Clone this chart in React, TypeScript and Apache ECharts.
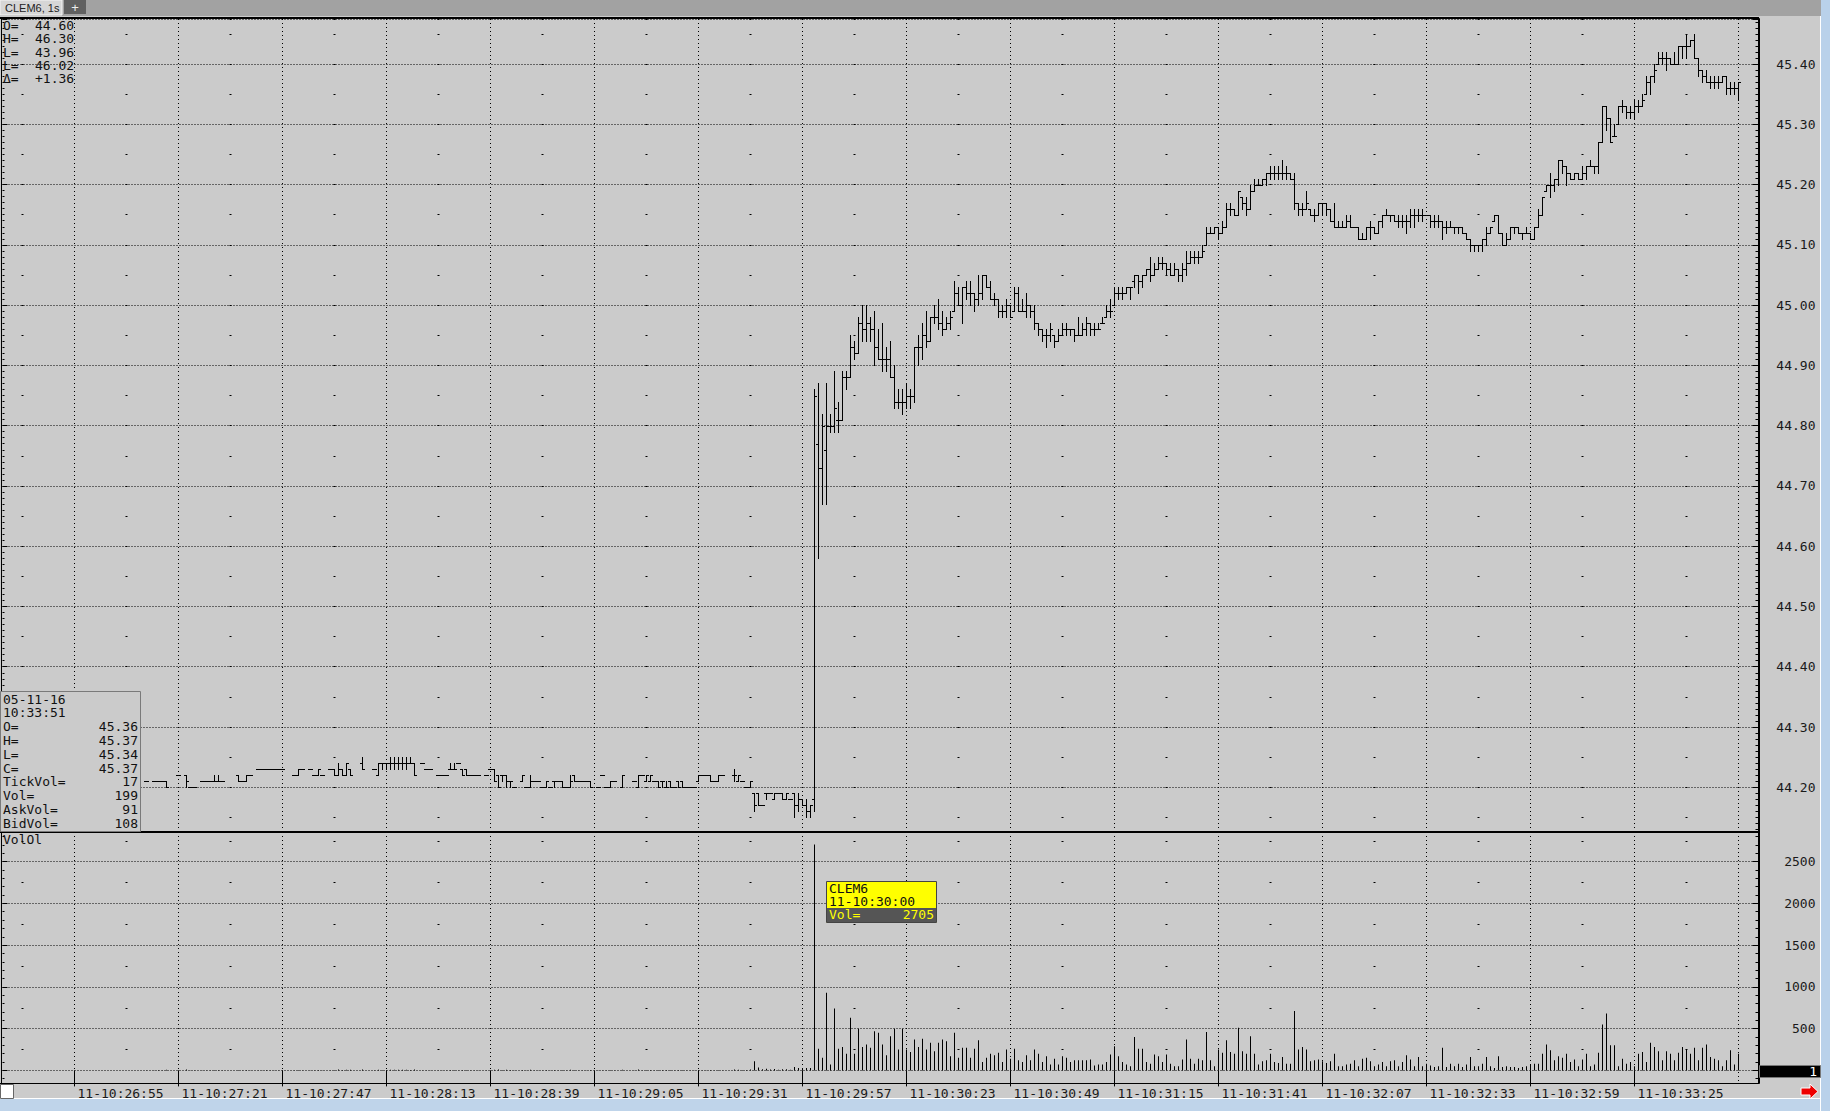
import React, { useEffect, useRef } from "react";
import * as echarts from "echarts";

// ---------- axis / time data ----------
const firstCategory = "10:26:37";
const categoryCount = 440;
const firstLabel = "10:26:55";
const lastLabel = "10:33:25";
const labelEvery = 26;
const dayPrefix = "11-";

// ---------- price / volume data ----------
// [time, open, high, low, close, volume]
const earlyBars: [string, number, number, number, number, number][] = [
  ["10:27:13", 44.21, 44.21, 44.21, 44.21, 3],
  ["10:27:15", 44.21, 44.21, 44.21, 44.21, 2],
  ["10:27:16", 44.21, 44.21, 44.21, 44.21, 4],
  ["10:27:17", 44.21, 44.21, 44.21, 44.21, 2],
  ["10:27:18", 44.21, 44.21, 44.2, 44.2, 8],
  ["10:27:21", 44.22, 44.22, 44.22, 44.22, 3],
  ["10:27:23", 44.22, 44.22, 44.2, 44.21, 12],
  ["10:27:24", 44.2, 44.2, 44.2, 44.2, 2],
  ["10:27:25", 44.2, 44.2, 44.2, 44.2, 3],
  ["10:27:27", 44.21, 44.21, 44.21, 44.21, 2],
  ["10:27:28", 44.21, 44.21, 44.21, 44.21, 3],
  ["10:27:29", 44.21, 44.21, 44.21, 44.21, 2],
  ["10:27:30", 44.21, 44.22, 44.21, 44.21, 6],
  ["10:27:31", 44.21, 44.22, 44.21, 44.21, 5],
  ["10:27:32", 44.21, 44.21, 44.21, 44.21, 2],
  ["10:27:36", 44.22, 44.22, 44.21, 44.21, 6],
  ["10:27:37", 44.21, 44.21, 44.21, 44.21, 2],
  ["10:27:38", 44.21, 44.22, 44.21, 44.22, 5],
  ["10:27:39", 44.22, 44.22, 44.22, 44.22, 2],
  ["10:27:41", 44.23, 44.23, 44.23, 44.23, 3],
  ["10:27:42", 44.23, 44.23, 44.23, 44.23, 2],
  ["10:27:43", 44.23, 44.23, 44.23, 44.23, 4],
  ["10:27:44", 44.23, 44.23, 44.23, 44.23, 2],
  ["10:27:45", 44.23, 44.23, 44.23, 44.23, 3],
  ["10:27:46", 44.23, 44.23, 44.23, 44.23, 2],
  ["10:27:47", 44.23, 44.23, 44.23, 44.23, 3],
  ["10:27:50", 44.22, 44.22, 44.22, 44.22, 2],
  ["10:27:51", 44.22, 44.23, 44.22, 44.23, 6],
  ["10:27:52", 44.23, 44.23, 44.23, 44.23, 2],
  ["10:27:54", 44.23, 44.23, 44.23, 44.23, 3],
  ["10:27:55", 44.22, 44.22, 44.22, 44.22, 2],
  ["10:27:56", 44.22, 44.23, 44.22, 44.23, 5],
  ["10:27:57", 44.22, 44.22, 44.22, 44.22, 2],
  ["10:27:59", 44.23, 44.23, 44.23, 44.23, 3],
  ["10:28:00", 44.23, 44.23, 44.22, 44.22, 6],
  ["10:28:01", 44.22, 44.24, 44.22, 44.23, 10],
  ["10:28:02", 44.23, 44.23, 44.22, 44.22, 6],
  ["10:28:03", 44.22, 44.24, 44.22, 44.24, 9],
  ["10:28:04", 44.23, 44.23, 44.22, 44.22, 7],
  ["10:28:07", 44.24, 44.25, 44.23, 44.23, 12],
  ["10:28:10", 44.23, 44.23, 44.23, 44.23, 3],
  ["10:28:11", 44.22, 44.24, 44.22, 44.24, 9],
  ["10:28:12", 44.24, 44.24, 44.23, 44.24, 5],
  ["10:28:13", 44.24, 44.24, 44.23, 44.24, 5],
  ["10:28:14", 44.24, 44.25, 44.23, 44.24, 9],
  ["10:28:15", 44.24, 44.25, 44.23, 44.24, 8],
  ["10:28:16", 44.24, 44.25, 44.23, 44.24, 9],
  ["10:28:17", 44.24, 44.25, 44.23, 44.24, 7],
  ["10:28:18", 44.24, 44.25, 44.23, 44.24, 8],
  ["10:28:19", 44.24, 44.25, 44.24, 44.24, 5],
  ["10:28:20", 44.24, 44.24, 44.22, 44.22, 10],
  ["10:28:22", 44.24, 44.24, 44.24, 44.24, 2],
  ["10:28:23", 44.23, 44.23, 44.23, 44.23, 3],
  ["10:28:24", 44.23, 44.23, 44.23, 44.23, 2],
  ["10:28:26", 44.22, 44.22, 44.22, 44.22, 3],
  ["10:28:27", 44.22, 44.22, 44.22, 44.22, 2],
  ["10:28:28", 44.22, 44.22, 44.22, 44.22, 3],
  ["10:28:29", 44.23, 44.24, 44.23, 44.23, 6],
  ["10:28:30", 44.23, 44.24, 44.23, 44.23, 5],
  ["10:28:31", 44.24, 44.24, 44.24, 44.24, 2],
  ["10:28:32", 44.23, 44.23, 44.22, 44.22, 6],
  ["10:28:33", 44.23, 44.23, 44.22, 44.22, 5],
  ["10:28:34", 44.22, 44.22, 44.22, 44.22, 2],
  ["10:28:35", 44.22, 44.22, 44.22, 44.22, 3],
  ["10:28:36", 44.22, 44.22, 44.22, 44.22, 2],
  ["10:28:38", 44.22, 44.22, 44.22, 44.22, 3],
  ["10:28:39", 44.23, 44.23, 44.23, 44.23, 2],
  ["10:28:40", 44.23, 44.23, 44.21, 44.21, 9],
  ["10:28:41", 44.22, 44.22, 44.2, 44.2, 10],
  ["10:28:42", 44.22, 44.22, 44.21, 44.22, 6],
  ["10:28:43", 44.22, 44.22, 44.2, 44.21, 9],
  ["10:28:44", 44.21, 44.21, 44.2, 44.21, 5],
  ["10:28:45", 44.2, 44.2, 44.2, 44.2, 3],
  ["10:28:47", 44.21, 44.22, 44.21, 44.22, 6],
  ["10:28:48", 44.2, 44.2, 44.2, 44.2, 3],
  ["10:28:49", 44.2, 44.22, 44.2, 44.21, 9],
  ["10:28:50", 44.21, 44.21, 44.21, 44.21, 2],
  ["10:28:51", 44.21, 44.21, 44.21, 44.21, 3],
  ["10:28:52", 44.2, 44.2, 44.2, 44.2, 2],
  ["10:28:53", 44.2, 44.21, 44.2, 44.21, 5],
  ["10:28:54", 44.2, 44.2, 44.2, 44.2, 2],
  ["10:28:55", 44.21, 44.21, 44.2, 44.21, 5],
  ["10:28:56", 44.21, 44.21, 44.21, 44.21, 2],
  ["10:28:57", 44.21, 44.21, 44.2, 44.2, 6],
  ["10:28:58", 44.2, 44.2, 44.2, 44.2, 3],
  ["10:28:59", 44.2, 44.22, 44.2, 44.21, 9],
  ["10:29:00", 44.22, 44.22, 44.21, 44.21, 6],
  ["10:29:01", 44.21, 44.21, 44.21, 44.21, 2],
  ["10:29:02", 44.21, 44.21, 44.21, 44.21, 3],
  ["10:29:03", 44.21, 44.21, 44.21, 44.21, 2],
  ["10:29:04", 44.21, 44.21, 44.2, 44.2, 6],
  ["10:29:06", 44.2, 44.2, 44.2, 44.2, 3],
  ["10:29:07", 44.22, 44.22, 44.22, 44.22, 2],
  ["10:29:08", 44.2, 44.2, 44.2, 44.2, 3],
  ["10:29:09", 44.2, 44.21, 44.2, 44.21, 5],
  ["10:29:10", 44.21, 44.21, 44.21, 44.21, 2],
  ["10:29:12", 44.2, 44.22, 44.2, 44.22, 9],
  ["10:29:15", 44.21, 44.21, 44.21, 44.21, 2],
  ["10:29:16", 44.2, 44.22, 44.2, 44.22, 10],
  ["10:29:17", 44.22, 44.22, 44.22, 44.22, 3],
  ["10:29:18", 44.21, 44.22, 44.21, 44.22, 6],
  ["10:29:19", 44.21, 44.22, 44.21, 44.22, 5],
  ["10:29:20", 44.21, 44.21, 44.21, 44.21, 3],
  ["10:29:21", 44.21, 44.21, 44.2, 44.2, 6],
  ["10:29:22", 44.21, 44.21, 44.2, 44.21, 5],
  ["10:29:23", 44.2, 44.21, 44.2, 44.2, 6],
  ["10:29:24", 44.21, 44.21, 44.2, 44.2, 5],
  ["10:29:25", 44.2, 44.2, 44.2, 44.2, 3],
  ["10:29:26", 44.21, 44.21, 44.2, 44.2, 6],
  ["10:29:27", 44.21, 44.21, 44.2, 44.2, 5],
  ["10:29:28", 44.2, 44.2, 44.2, 44.2, 2],
  ["10:29:29", 44.2, 44.2, 44.2, 44.2, 3],
  ["10:29:30", 44.2, 44.2, 44.2, 44.2, 2],
  ["10:29:31", 44.21, 44.22, 44.21, 44.22, 6],
  ["10:29:32", 44.22, 44.22, 44.22, 44.22, 3],
  ["10:29:33", 44.22, 44.22, 44.22, 44.22, 2],
  ["10:29:34", 44.22, 44.22, 44.21, 44.21, 6],
  ["10:29:35", 44.21, 44.21, 44.21, 44.21, 3],
  ["10:29:36", 44.21, 44.22, 44.21, 44.22, 6],
  ["10:29:37", 44.22, 44.22, 44.22, 44.22, 3],
  ["10:29:40", 44.22, 44.23, 44.21, 44.22, 12],
  ["10:29:41", 44.21, 44.22, 44.21, 44.22, 8],
  ["10:29:42", 44.21, 44.21, 44.21, 44.21, 4],
  ["10:29:43", 44.2, 44.2, 44.2, 44.2, 5],
  ["10:29:44", 44.2, 44.21, 44.2, 44.21, 10],
  ["10:29:45", 44.19, 44.19, 44.16, 44.17, 110],
  ["10:29:46", 44.19, 44.19, 44.17, 44.17, 35],
  ["10:29:47", 44.17, 44.17, 44.17, 44.17, 15],
  ["10:29:48", 44.19, 44.19, 44.18, 44.19, 20],
  ["10:29:49", 44.19, 44.19, 44.19, 44.19, 10],
  ["10:29:50", 44.18, 44.19, 44.18, 44.19, 18],
  ["10:29:51", 44.19, 44.19, 44.19, 44.19, 8],
  ["10:29:52", 44.19, 44.19, 44.18, 44.18, 15],
  ["10:29:53", 44.18, 44.19, 44.18, 44.19, 14],
  ["10:29:54", 44.18, 44.18, 44.18, 44.18, 9],
  ["10:29:55", 44.19, 44.19, 44.15, 44.17, 40],
  ["10:29:56", 44.17, 44.19, 44.16, 44.18, 30],
  ["10:29:57", 44.18, 44.18, 44.17, 44.17, 25],
  ["10:29:58", 44.17, 44.18, 44.15, 44.16, 30],
  ["10:29:59", 44.16, 44.17, 44.15, 44.17, 28],
];

// consecutive one-second bars from rallyStart: [open, high, low, close]
const rallyStart = "10:30:00";
const rallyBars: [number, number, number, number][] = [
  [44.18, 44.86, 44.16, 44.85], [44.77, 44.87, 44.58, 44.73], [44.73, 44.82, 44.67, 44.8], [44.76, 44.87, 44.67, 44.8],
  [44.8, 44.82, 44.79, 44.8], [44.8, 44.89, 44.79, 44.83], [44.81, 44.84, 44.79, 44.81], [44.81, 44.89, 44.81, 44.88],
  [44.88, 44.89, 44.86, 44.88], [44.88, 44.95, 44.88, 44.93], [44.93, 44.94, 44.91, 44.92], [44.92, 44.98, 44.92, 44.97],
  [44.97, 45.0, 44.94, 44.96], [44.96, 45.0, 44.94, 44.97], [44.97, 44.98, 44.94, 44.96], [44.96, 44.99, 44.9, 44.93],
  [44.93, 44.96, 44.91, 44.91], [44.91, 44.97, 44.89, 44.91], [44.91, 44.93, 44.89, 44.91], [44.91, 44.94, 44.88, 44.88],
  [44.88, 44.9, 44.83, 44.84], [44.84, 44.86, 44.83, 44.84], [44.84, 44.86, 44.82, 44.84], [44.84, 44.87, 44.83, 44.85],
  [44.85, 44.86, 44.83, 44.85], [44.85, 44.93, 44.84, 44.93], [44.93, 44.95, 44.9, 44.93], [44.93, 44.97, 44.91, 44.95],
  [44.95, 44.99, 44.93, 44.94], [44.94, 44.98, 44.94, 44.98], [44.98, 45.0, 44.97, 44.98], [44.98, 45.01, 44.96, 44.97],
  [44.97, 44.99, 44.95, 44.96], [44.96, 44.98, 44.96, 44.97], [44.97, 44.99, 44.96, 44.98], [44.99, 45.04, 44.99, 45.02],
  [45.02, 45.03, 45.0, 45.0], [45.0, 45.03, 44.97, 45.03], [45.03, 45.04, 45.01, 45.02], [45.02, 45.04, 45.0, 45.02],
  [45.02, 45.02, 44.99, 45.01], [45.01, 45.05, 45.0, 45.02], [45.02, 45.05, 45.01, 45.05], [45.05, 45.05, 45.03, 45.03],
  [45.03, 45.04, 45.01, 45.01], [45.01, 45.02, 45.0, 45.01], [45.01, 45.01, 44.98, 44.99], [44.99, 45.0, 44.98, 44.99],
  [44.99, 45.01, 44.98, 45.0], [45.0, 45.0, 44.98, 44.98], [44.99, 45.03, 44.99, 45.02], [45.02, 45.03, 44.99, 44.99],
  [44.99, 45.01, 44.99, 44.99], [44.99, 45.02, 44.98, 45.0], [45.0, 45.0, 44.98, 44.99], [44.99, 45.0, 44.96, 44.97],
  [44.97, 44.97, 44.95, 44.96], [44.96, 44.96, 44.94, 44.95], [44.95, 44.96, 44.93, 44.95], [44.95, 44.97, 44.94, 44.96],
  [44.95, 44.95, 44.93, 44.94], [44.94, 44.96, 44.94, 44.95], [44.95, 44.97, 44.95, 44.96], [44.96, 44.97, 44.95, 44.96],
  [44.96, 44.96, 44.95, 44.96], [44.96, 44.96, 44.94, 44.95], [44.95, 44.98, 44.95, 44.95], [44.95, 44.97, 44.95, 44.96],
  [44.96, 44.98, 44.95, 44.97], [44.97, 44.97, 44.95, 44.96], [44.96, 44.97, 44.95, 44.96], [44.96, 44.97, 44.96, 44.96],
  [44.97, 44.98, 44.97, 44.97], [44.98, 45.0, 44.98, 44.99], [44.99, 45.01, 44.98, 44.99], [45.0, 45.03, 45.0, 45.02],
  [45.02, 45.03, 45.01, 45.02], [45.02, 45.03, 45.01, 45.02], [45.02, 45.03, 45.02, 45.03], [45.03, 45.03, 45.01, 45.03],
  [45.04, 45.05, 45.03, 45.05], [45.05, 45.05, 45.02, 45.04], [45.04, 45.05, 45.03, 45.05], [45.05, 45.06, 45.05, 45.06],
  [45.06, 45.08, 45.04, 45.05], [45.05, 45.07, 45.05, 45.06], [45.06, 45.08, 45.06, 45.07], [45.07, 45.08, 45.06, 45.07],
  [45.07, 45.07, 45.05, 45.06], [45.06, 45.07, 45.05, 45.05], [45.05, 45.07, 45.05, 45.06], [45.06, 45.06, 45.04, 45.05],
  [45.05, 45.07, 45.04, 45.06], [45.06, 45.09, 45.05, 45.07], [45.07, 45.09, 45.07, 45.08], [45.08, 45.09, 45.07, 45.08],
  [45.08, 45.09, 45.07, 45.08], [45.08, 45.1, 45.08, 45.09], [45.1, 45.13, 45.1, 45.12], [45.12, 45.13, 45.12, 45.12],
  [45.12, 45.13, 45.12, 45.13], [45.13, 45.13, 45.11, 45.12], [45.12, 45.14, 45.12, 45.13], [45.13, 45.17, 45.13, 45.16],
  [45.16, 45.17, 45.15, 45.16], [45.16, 45.16, 45.15, 45.15], [45.15, 45.19, 45.15, 45.19], [45.18, 45.18, 45.16, 45.17],
  [45.17, 45.18, 45.15, 45.16], [45.16, 45.2, 45.16, 45.19], [45.19, 45.21, 45.19, 45.2], [45.2, 45.21, 45.2, 45.2],
  [45.2, 45.21, 45.2, 45.21], [45.21, 45.22, 45.2, 45.22], [45.22, 45.23, 45.21, 45.22], [45.22, 45.23, 45.21, 45.22],
  [45.22, 45.23, 45.21, 45.22], [45.22, 45.24, 45.21, 45.22], [45.22, 45.23, 45.21, 45.22], [45.22, 45.22, 45.21, 45.21],
  [45.21, 45.22, 45.16, 45.17], [45.17, 45.17, 45.15, 45.16], [45.16, 45.17, 45.15, 45.16], [45.16, 45.19, 45.16, 45.17],
  [45.16, 45.16, 45.15, 45.15], [45.15, 45.16, 45.14, 45.15], [45.15, 45.17, 45.15, 45.17], [45.17, 45.17, 45.15, 45.17],
  [45.17, 45.17, 45.15, 45.16], [45.16, 45.16, 45.14, 45.14], [45.14, 45.17, 45.13, 45.13], [45.13, 45.14, 45.13, 45.13],
  [45.13, 45.14, 45.13, 45.13], [45.13, 45.15, 45.13, 45.14], [45.14, 45.15, 45.13, 45.13], [45.13, 45.13, 45.13, 45.13],
  [45.13, 45.13, 45.11, 45.11], [45.11, 45.12, 45.11, 45.11], [45.11, 45.13, 45.11, 45.13], [45.13, 45.14, 45.11, 45.13],
  [45.13, 45.13, 45.12, 45.12], [45.12, 45.14, 45.12, 45.14], [45.14, 45.15, 45.13, 45.15], [45.15, 45.16, 45.15, 45.15],
  [45.15, 45.15, 45.14, 45.15], [45.15, 45.15, 45.14, 45.14], [45.14, 45.15, 45.13, 45.14], [45.14, 45.15, 45.13, 45.14],
  [45.14, 45.15, 45.12, 45.14], [45.14, 45.16, 45.13, 45.15], [45.15, 45.16, 45.13, 45.15], [45.15, 45.16, 45.14, 45.15],
  [45.15, 45.16, 45.14, 45.15], [45.15, 45.15, 45.15, 45.15], [45.15, 45.15, 45.13, 45.14], [45.14, 45.15, 45.13, 45.14],
  [45.14, 45.15, 45.13, 45.14], [45.14, 45.14, 45.11, 45.13], [45.13, 45.14, 45.12, 45.13], [45.13, 45.14, 45.13, 45.13],
  [45.13, 45.13, 45.12, 45.13], [45.13, 45.13, 45.12, 45.13], [45.13, 45.13, 45.12, 45.12], [45.12, 45.12, 45.11, 45.11],
  [45.11, 45.11, 45.09, 45.1], [45.1, 45.1, 45.09, 45.1], [45.1, 45.1, 45.09, 45.1], [45.1, 45.11, 45.09, 45.11],
  [45.11, 45.13, 45.1, 45.12], [45.12, 45.13, 45.12, 45.13], [45.14, 45.15, 45.14, 45.15], [45.15, 45.15, 45.12, 45.12],
  [45.12, 45.12, 45.1, 45.1], [45.1, 45.12, 45.1, 45.11], [45.11, 45.13, 45.11, 45.13], [45.13, 45.13, 45.12, 45.13],
  [45.13, 45.13, 45.12, 45.12], [45.12, 45.12, 45.11, 45.12], [45.12, 45.13, 45.12, 45.12], [45.12, 45.12, 45.11, 45.11],
  [45.11, 45.13, 45.11, 45.13], [45.13, 45.16, 45.13, 45.15], [45.15, 45.18, 45.15, 45.18], [45.19, 45.2, 45.19, 45.2],
  [45.2, 45.22, 45.18, 45.2], [45.2, 45.21, 45.19, 45.21], [45.21, 45.24, 45.2, 45.24], [45.24, 45.24, 45.22, 45.23],
  [45.23, 45.23, 45.2, 45.22], [45.22, 45.22, 45.21, 45.21], [45.21, 45.22, 45.21, 45.22], [45.22, 45.22, 45.21, 45.21],
  [45.21, 45.23, 45.21, 45.22], [45.22, 45.23, 45.21, 45.23], [45.23, 45.24, 45.23, 45.23], [45.23, 45.23, 45.22, 45.23],
  [45.23, 45.27, 45.22, 45.27], [45.27, 45.33, 45.27, 45.33], [45.33, 45.33, 45.29, 45.31], [45.31, 45.31, 45.27, 45.27],
  [45.28, 45.3, 45.28, 45.28], [45.3, 45.33, 45.3, 45.33], [45.33, 45.34, 45.32, 45.33], [45.33, 45.33, 45.31, 45.32],
  [45.32, 45.33, 45.31, 45.32], [45.32, 45.34, 45.31, 45.33], [45.33, 45.34, 45.32, 45.33], [45.33, 45.35, 45.33, 45.34],
  [45.35, 45.38, 45.35, 45.37], [45.37, 45.38, 45.35, 45.38], [45.38, 45.4, 45.37, 45.39], [45.4, 45.42, 45.4, 45.41],
  [45.41, 45.42, 45.4, 45.41], [45.41, 45.42, 45.39, 45.41], [45.41, 45.41, 45.4, 45.4], [45.4, 45.42, 45.4, 45.4],
  [45.4, 45.43, 45.4, 45.43], [45.43, 45.43, 45.41, 45.43], [45.43, 45.45, 45.41, 45.43], [45.43, 45.44, 45.43, 45.44],
  [45.44, 45.45, 45.41, 45.41], [45.41, 45.41, 45.38, 45.39], [45.39, 45.39, 45.37, 45.38], [45.38, 45.39, 45.37, 45.37],
  [45.37, 45.38, 45.36, 45.37], [45.37, 45.38, 45.36, 45.37], [45.37, 45.38, 45.36, 45.37], [45.37, 45.38, 45.37, 45.38],
  [45.38, 45.38, 45.35, 45.36], [45.36, 45.37, 45.35, 45.36], [45.36, 45.37, 45.35, 45.36], [45.36, 45.37, 45.34, 45.37],
];

// volumes of the consecutive bars from rallyStart
const rallyVolume: number[] = [
  2705, 260, 150, 930, 70, 740, 260, 280, 200, 630, 200, 500, 280, 310, 270, 470, 450, 310, 180, 410,
  500, 250, 500, 250, 220, 370, 280, 380, 250, 330, 230, 330, 370, 350, 170, 450, 150, 270, 270, 150,
  260, 360, 100, 150, 200, 180, 210, 100, 250, 140, 260, 120, 100, 180, 120, 250, 200, 100, 170, 70,
  140, 70, 170, 150, 100, 120, 120, 120, 120, 130, 60, 70, 70, 100, 190, 290, 170, 100, 70, 50,
  400, 260, 260, 100, 80, 190, 170, 100, 190, 80, 50, 50, 130, 370, 140, 80, 140, 120, 460, 120,
  50, 250, 210, 360, 220, 200, 510, 230, 200, 410, 200, 70, 110, 120, 200, 100, 90, 160, 80, 80,
  710, 250, 280, 250, 110, 120, 130, 110, 90, 110, 200, 50, 50, 70, 80, 120, 50, 140, 150, 110,
  50, 70, 100, 50, 110, 120, 50, 100, 180, 130, 50, 160, 50, 80, 60, 40, 50, 270, 40, 80,
  50, 80, 40, 70, 160, 50, 50, 80, 160, 50, 30, 170, 40, 50, 40, 40, 30, 40, 50, 70,
  80, 80, 200, 310, 240, 120, 170, 150, 200, 100, 130, 50, 130, 200, 50, 70, 210, 550, 680, 300,
  300, 50, 140, 80, 100, 50, 200, 220, 100, 330, 280, 230, 120, 230, 200, 120, 210, 280, 250, 200,
  270, 120, 270, 310, 160, 140, 120, 50, 120, 240, 70, 199,
];

const headerLines: [string, string][] = [
  ["O=", "44.60"],
  ["H=", "46.30"],
  ["L=", "43.96"],
  ["L=", "46.02"],
  ["\u0394=", "+1.36"],
];

const infoLines: [string, string][] = [
  ["05-11-16", ""],
  ["10:33:51", ""],
  ["O=", "45.36"],
  ["H=", "45.37"],
  ["L=", "45.34"],
  ["C=", "45.37"],
  ["TickVol=", "17"],
  ["Vol=", "199"],
  ["AskVol=", "91"],
  ["BidVol=", "108"],
];

const tabTitle = "CLEM6, 1s";
const tipSymbol = "CLEM6";
const tipTime = "11-10:30:00";
const tipVolume = "2705";

// ---------- helpers ----------
const toSec = (t: string) => {
  const [h, m, s] = t.split(":").map(Number);
  return h * 3600 + m * 60 + s;
};
const fmt = (sec: number) => {
  const h = Math.floor(sec / 3600);
  const m = Math.floor((sec % 3600) / 60);
  const s = sec % 60;
  const p = (n: number) => String(n).padStart(2, "0");
  return `${p(h)}:${p(m)}:${p(s)}`;
};

const MONO = '"DejaVu Sans Mono", monospace';
const BG = "#cbcbcb";

export default function App() {
  const ref = useRef<HTMLDivElement>(null);

  useEffect(() => {
    if (!ref.current) return;
    const chart = echarts.init(ref.current, undefined, { renderer: "svg" });

    const start = toSec(firstCategory);
    const categories: string[] = [];
    for (let i = 0; i < categoryCount; i++) categories.push(fmt(start + i));
    const labelStartIdx = toSec(firstLabel) - start;
    const labelEndIdx = toSec(lastLabel) - start;
    const isGridIdx = (i: number) => i >= labelStartIdx && (i - labelStartIdx) % labelEvery === 0;
    const isLabelIdx = (i: number) => isGridIdx(i) && i <= labelEndIdx;

    const ohlc: any[] = earlyBars.map((b) => [b[0], b[1], b[2], b[3], b[4]]);
    const volMap: Record<string, number> = {};
    earlyBars.forEach((b) => (volMap[b[0]] = b[5]));
    const rs = toSec(rallyStart);
    rallyBars.forEach((b, i) => ohlc.push([fmt(rs + i), b[0], b[1], b[2], b[3]]));
    rallyVolume.forEach((v, i) => (volMap[fmt(rs + i)] = v));
    const volData = categories.map((c) => (volMap[c] !== undefined ? volMap[c] : "-"));

    const priceMin = 44.1258;
    const priceMax = 45.4747;
    const volMin = -151;
    const volMax = 2855;

    const tickStyle = { color: "#000", width: 1 };
    const labelStyle = { fontFamily: MONO, fontSize: 13, color: "#1a1a1a" };

    const textEl = (x: number, y: number, text: string, align = "left", fill = "#111", extra: any = {}) => ({
      type: "text",
      x,
      y,
      z: 110,
      style: { text, fill, font: `13px ${MONO}`, align, verticalAlign: "middle", ...extra },
    });

    const graphics: any[] = [];
    // top bar with tabs
    graphics.push({ type: "rect", shape: { x: 0, y: 0, width: 1830, height: 16 }, style: { fill: "#a2a2a2" }, z: 100 });
    graphics.push({ type: "rect", shape: { x: 0, y: 0, width: 62, height: 15 }, style: { fill: "#d6d6d6", stroke: "#f4f4f4", lineWidth: 1 }, z: 101 });
    graphics.push({ type: "text", x: 5, y: 7.5, z: 102, style: { text: tabTitle, fill: "#222", font: '11px "Liberation Sans", Arial, sans-serif', verticalAlign: "middle" } });
    graphics.push({ type: "rect", shape: { x: 64, y: 0, width: 22, height: 14 }, style: { fill: "#606060" }, z: 101 });
    graphics.push({ type: "text", x: 75, y: 7, z: 102, style: { text: "+", fill: "#eee", font: '13px "Liberation Sans", sans-serif', align: "center", verticalAlign: "middle" } });
    // right & bottom window frame
    graphics.push({ type: "rect", shape: { x: 1821, y: 0, width: 9, height: 1111 }, style: { fill: "#b9d1ea" }, z: 100 });
    graphics.push({ type: "line", shape: { x1: 1820.5, y1: 16, x2: 1820.5, y2: 1111 }, style: { stroke: "#ffffff", lineWidth: 1 }, z: 101 });
    graphics.push({ type: "rect", shape: { x: 0, y: 1099, width: 1821, height: 12 }, style: { fill: "#bfd4ea" }, z: 100 });
    graphics.push({ type: "line", shape: { x1: 0, y1: 1098.5, x2: 1821, y2: 1098.5 }, style: { stroke: "#ffffff", lineWidth: 1 }, z: 101 });
    // pane borders
    graphics.push({ type: "line", shape: { x1: 0, y1: 18, x2: 1759, y2: 18 }, style: { stroke: "#000", lineWidth: 2 }, z: 90 });
    graphics.push({ type: "line", shape: { x1: 0, y1: 832, x2: 1759, y2: 832 }, style: { stroke: "#000", lineWidth: 2 }, z: 90 });
    graphics.push({ type: "line", shape: { x1: 0, y1: 1083.5, x2: 1759, y2: 1083.5 }, style: { stroke: "#000", lineWidth: 1 }, z: 90 });
    graphics.push({ type: "line", shape: { x1: 1.5, y1: 18, x2: 1.5, y2: 1083 }, style: { stroke: "#000", lineWidth: 1 }, z: 90 });
    // header lines
    headerLines.forEach((l, i) => {
      const y = 25.5 + i * 13.3;
      graphics.push(textEl(3, y, l[0]));
      graphics.push(textEl(35, y, l[1]));
    });
    // info box
    graphics.push({ type: "rect", shape: { x: 0.5, y: 691.5, width: 140, height: 140 }, style: { fill: BG, stroke: "#7a7a7a", lineWidth: 1 }, z: 105 });
    infoLines.forEach((l, i) => {
      const y = 699 + i * 13.8;
      graphics.push(textEl(3, y, l[0]));
      if (l[1]) graphics.push(textEl(138, y, l[1], "right"));
    });
    // volume pane title
    graphics.push(textEl(3, 839, "VolOl"));
    // tooltip box
    graphics.push({ type: "rect", shape: { x: 826.5, y: 881.5, width: 110, height: 41 }, style: { fill: "#ffff00", stroke: "#444", lineWidth: 1 }, z: 105 });
    graphics.push({ type: "rect", shape: { x: 827, y: 908, width: 109, height: 14 }, style: { fill: "#555555" }, z: 106 });
    graphics.push(textEl(829, 888.5, tipSymbol));
    graphics.push(textEl(829, 901, tipTime));
    graphics.push(textEl(829, 914.5, "Vol=", "left", "#ffff00"));
    graphics.push(textEl(934, 914.5, tipVolume, "right", "#ffff00"));
    // last value box
    graphics.push({ type: "rect", shape: { x: 1759.5, y: 1065.5, width: 61, height: 12 }, style: { fill: "#000", stroke: "#777", lineWidth: 1 }, z: 105 });
    graphics.push(textEl(1817, 1071.5, "1", "right", "#fff"));
    // bottom-left white box
    graphics.push({ type: "rect", shape: { x: 0.5, y: 1084.5, width: 13, height: 14 }, style: { fill: "#fff", stroke: "#666", lineWidth: 1 }, z: 105 });
    // red arrow
    graphics.push({
      type: "polygon",
      shape: { points: [[1801, 1088], [1810, 1088], [1810, 1084], [1818, 1091.5], [1810, 1099], [1810, 1095], [1801, 1095]] },
      style: { fill: "#ee0000", stroke: "#ffffff", lineWidth: 1 },
      z: 105,
    });

    const option: any = {
      animation: false,
      backgroundColor: BG,
      grid: [
        { left: 2.5, top: 19, width: 1756, height: 813 },
        { left: 2.5, top: 832, width: 1756, height: 251 },
      ],
      xAxis: [
        {
          gridIndex: 0,
          type: "category",
          data: categories,
          boundaryGap: false,
          axisLine: { show: false },
          axisTick: { show: false },
          axisLabel: { show: false },
          splitLine: { show: true, interval: (i: number) => isGridIdx(i), lineStyle: { color: "#000", type: [1, 3], width: 1 } },
        },
        {
          gridIndex: 1,
          type: "category",
          data: categories,
          boundaryGap: false,
          axisLine: { show: false },
          axisTick: { show: true, interval: (i: number) => isLabelIdx(i), length: 16, lineStyle: { color: "#000", width: 1 } },
          axisLabel: {
            show: true,
            interval: (i: number) => isLabelIdx(i),
            formatter: (v: string) => dayPrefix + v,
            align: "left",
            margin: 4,
            padding: [0, 0, 0, 3],
            ...labelStyle,
          },
          splitLine: { show: true, interval: (i: number) => isGridIdx(i), lineStyle: { color: "#000", type: [1, 3], width: 1 } },
        },
      ],
      yAxis: [
        {
          gridIndex: 0,
          type: "value",
          position: "right",
          min: priceMin,
          max: priceMax,
          splitNumber: 13,
          axisLine: { show: true, lineStyle: { color: "#000", width: 2 } },
          axisTick: { show: true, inside: true, length: 6, lineStyle: tickStyle },
          minorTick: { show: true, splitNumber: 10, length: 3, lineStyle: tickStyle },
          axisLabel: {
            show: true,
            inside: false,
            margin: 57,
            align: "right",
            formatter: (v: number) => (Math.abs(v * 10 - Math.round(v * 10)) < 1e-6 ? v.toFixed(2) : ""),
            ...labelStyle,
          },
          splitLine: { show: true, lineStyle: { color: "#000", type: [1, 2], width: 1 } },
        },
        {
          gridIndex: 0,
          type: "value",
          position: "left",
          min: priceMin,
          max: priceMax,
          splitNumber: 13,
          axisLine: { show: false },
          axisTick: { show: true, inside: true, length: 5, lineStyle: tickStyle },
          minorTick: { show: true, splitNumber: 10, length: 2, lineStyle: tickStyle },
          axisLabel: { show: false },
          splitLine: { show: false },
        },
        {
          gridIndex: 0,
          type: "value",
          position: "left",
          min: priceMin,
          max: priceMax,
          splitNumber: 27,
          axisLine: { show: false },
          axisTick: { show: false },
          axisLabel: { show: false },
          splitLine: { show: true, lineStyle: { color: "#000", type: [2, 102], dashOffset: 85, width: 1 } },
        },
        {
          gridIndex: 1,
          type: "value",
          position: "right",
          min: volMin,
          max: volMax,
          splitNumber: 6,
          axisLine: { show: true, lineStyle: { color: "#000", width: 2 } },
          axisTick: { show: true, inside: true, length: 6, lineStyle: tickStyle },
          minorTick: { show: true, splitNumber: 5, length: 3, lineStyle: tickStyle },
          axisLabel: {
            show: true,
            margin: 57,
            align: "right",
            formatter: (v: number) => (v > 0 && Math.abs(v % 500) < 1e-6 ? String(v) : ""),
            ...labelStyle,
          },
          splitLine: { show: true, lineStyle: { color: "#000", type: [1, 2], width: 1 } },
        },
        {
          gridIndex: 1,
          type: "value",
          position: "left",
          min: volMin,
          max: volMax,
          splitNumber: 6,
          axisLine: { show: false },
          axisTick: { show: true, inside: true, length: 5, lineStyle: tickStyle },
          minorTick: { show: true, splitNumber: 5, length: 2, lineStyle: tickStyle },
          axisLabel: { show: false },
          splitLine: { show: false },
        },
        {
          gridIndex: 1,
          type: "value",
          position: "left",
          min: volMin,
          max: volMax,
          splitNumber: 6,
          axisLine: { show: false },
          axisTick: { show: false },
          axisLabel: { show: false },
          splitLine: { show: false },
          minorTick: { show: false, splitNumber: 2 },
          minorSplitLine: { show: true, lineStyle: { color: "#000", type: [2, 102], dashOffset: 85, width: 1 } },
        },
      ],
      series: [
        {
          type: "custom",
          xAxisIndex: 0,
          yAxisIndex: 0,
          clip: true,
          encode: { x: 0, y: [1, 2, 3, 4] },
          data: ohlc,
          renderItem: (params: any, api: any) => {
            let idx = api.value(0);
            if (typeof idx === "string") idx = categories.indexOf(idx);
            const o = api.value(1);
            const h = api.value(2);
            const l = api.value(3);
            const c = api.value(4);
            const pH = api.coord([idx, h]);
            const pL = api.coord([idx, l]);
            const pO = api.coord([idx, o]);
            const pC = api.coord([idx, c]);
            const x = Math.floor(pH[0]) + 0.5;
            const yo = Math.round(pO[1]) + 0.5;
            const yc = Math.round(pC[1]) + 0.5;
            const st = { stroke: "#000", lineWidth: 1 };
            return {
              type: "group",
              children: [
                { type: "line", shape: { x1: x, y1: Math.round(pH[1]), x2: x, y2: Math.round(pL[1]) + 1 }, style: st },
                { type: "line", shape: { x1: x - 2.5, y1: yo, x2: x - 0.5, y2: yo }, style: st },
                { type: "line", shape: { x1: x + 0.5, y1: yc, x2: x + 2.5, y2: yc }, style: st },
              ],
            };
          },
        },
        {
          type: "bar",
          xAxisIndex: 1,
          yAxisIndex: 3,
          barWidth: 1,
          data: volData,
          itemStyle: { color: "#000" },
        },
      ],
      graphic: { elements: graphics },
    };

    chart.setOption(option);
    return () => chart.dispose();
  }, []);

  return (
    <div
      ref={ref}
      style={{ position: "fixed", left: 0, top: 0, width: 1830, height: 1111 }}
    />
  );
}
